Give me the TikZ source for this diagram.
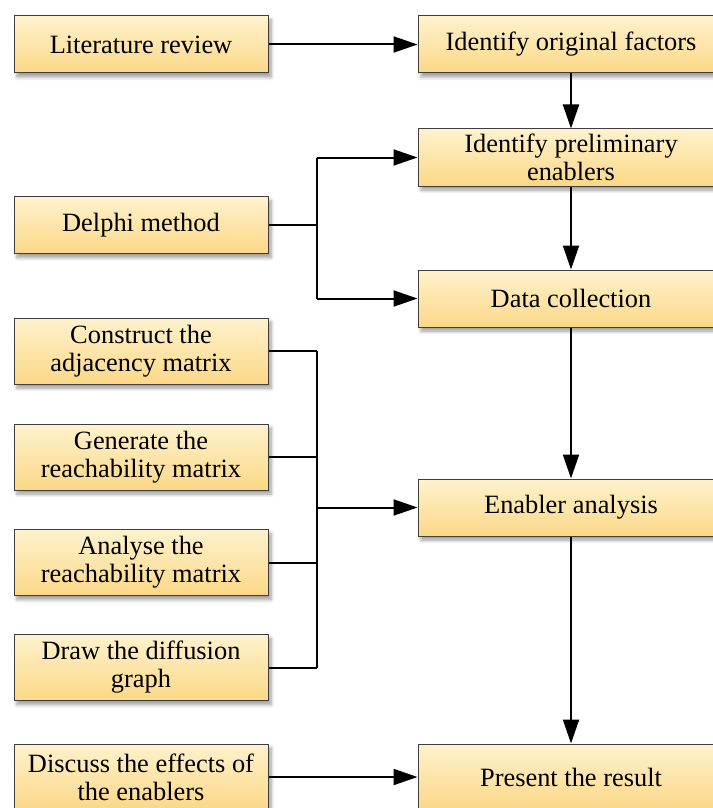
\documentclass[tikz,border=0pt]{standalone}
\usepackage{fontspec}
\setmainfont{Liberation Serif}
\usetikzlibrary{arrows.meta, positioning, shadows.blur}

\definecolor{boxtop}{HTML}{FFF2CD}
\definecolor{boxbottom}{HTML}{FBD887}
\definecolor{boxedge}{HTML}{3F3F3F}

\begin{document}
\begin{tikzpicture}[
    x=0.5pt, y=-0.5pt,
    stage/.style={
        draw=boxedge,
        line width=0.5pt,
        top color=boxtop,
        bottom color=boxbottom,
        blur shadow={shadow xshift=1.5pt, shadow yshift=-2pt,
                     shadow blur steps=6, shadow opacity=40},
        minimum width=127pt,
        minimum height=28.5pt,
        inner sep=2pt,
        align=center,
        font=\fontsize{13.2}{14}\selectfont,
    },
    tall/.style={
        minimum height=33pt,
    },
    mainstage/.style={
        stage,
        minimum width=153pt,
    },
    flow/.style={
        line width=1pt,
        -{Triangle[length=12pt, width=8pt]},
    },
    link/.style={
        line width=1pt,
    }
]
    \useasboundingbox (0,0) rectangle (712,808);

    % Main column
    \node[mainstage] (factors) at (571,44.5) {Identify original factors};
    \node[mainstage] (prelim) at (571,157.5) {Identify preliminary\\enablers};
    \node[mainstage] (collect) at (571,298.5) {Data collection};
    \node[mainstage] (analysis) at (571,507.5) {Enabler analysis};
    \node[mainstage, tall] (result) at (571,777) {Present the result};

    % Inputs
    \node[stage] (review) at (141,44.5) {Literature review};
    \node[stage] (delphi) at (141,225) {Delphi method};
    \node[stage, tall] (adjacency) at (141,351) {Construct the\\adjacency matrix};
    \node[stage, tall] (generate) at (141,457) {Generate the\\reachability matrix};
    \node[stage, tall] (analyse) at (141,562.5) {Analyse the\\reachability matrix};
    \node[stage, tall] (diffusion) at (141,667.5) {Draw the diffusion\\graph};
    \node[stage, tall] (discuss) at (141,777) {Discuss the effects of\\the enablers};

    % Bus points
    \coordinate (dtop) at (317,157.5);
    \coordinate (dmid) at (317,225);
    \coordinate (dbot) at (317,298.5);
    \coordinate (mtop) at (317,351);
    \coordinate (mgen) at (317,457);
    \coordinate (mmid) at (317,507.5);
    \coordinate (mana) at (317,562.5);
    \coordinate (mbot) at (317,667.5);

    % Main flow
    \draw[flow] (review) -- (factors);
    \draw[flow] (factors) -- (prelim);
    \draw[flow] (prelim) -- (collect);
    \draw[flow] (collect) -- (analysis);
    \draw[flow] (analysis) -- (result);
    \draw[flow] (discuss) -- (result);

    % Delphi branch
    \draw[link] (delphi) -- (dmid);
    \draw[link] (dtop) -- (dbot);
    \draw[flow] (dtop) -- (prelim);
    \draw[flow] (dbot) -- (collect);

    % Matrix steps
    \draw[link] (adjacency) -- (mtop);
    \draw[link] (generate) -- (mgen);
    \draw[link] (analyse) -- (mana);
    \draw[link] (diffusion) -- (mbot);
    \draw[link] (mtop) -- (mbot);
    \draw[flow] (mmid) -- (analysis);

\end{tikzpicture}
\end{document}
